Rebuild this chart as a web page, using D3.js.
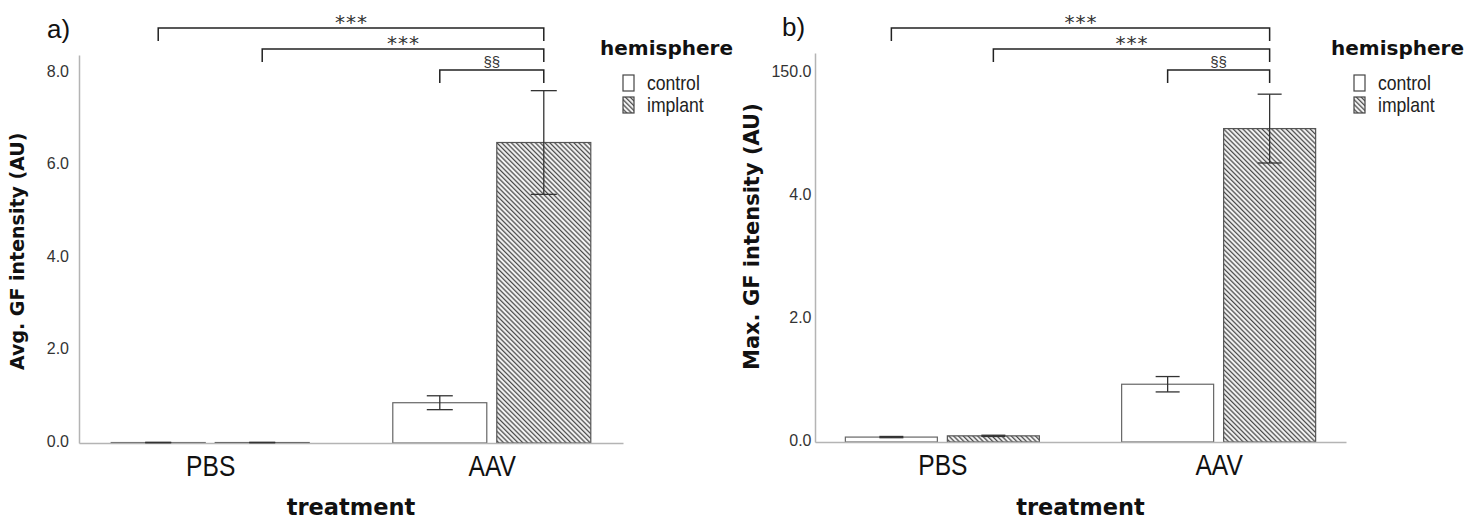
<!DOCTYPE html>
<html>
<head>
<meta charset="utf-8">
<script src="https://cdnjs.cloudflare.com/ajax/libs/d3/7.8.5/d3.min.js"></script>
<style>
  body { margin: 0; background: #fff; }
</style>
</head>
<body>
<svg width="1473" height="523"></svg>
<script>
var treatments = ["PBS", "AAV"];
var hemispheres = ["control", "implant"];

// a) average GF intensity: mean and error per treatment
var avgControl = [0.01, 0.87];
var avgControlErr = [0.005, 0.15];
var avgImplant = [0.01, 6.49];
var avgImplantErr = [0.005, 1.12];
var avgTicks = [0, 2, 4, 6, 8];
var avgTickLabels = ["0.0", "2.0", "4.0", "6.0", "8.0"];

// b) max GF intensity
var maxControl = [0.08, 0.94];
var maxControlErr = [0.01, 0.125];
var maxImplant = [0.10, 5.10];
var maxImplantErr = [0.01, 0.56];
var maxTicks = [0, 2, 4, 6];
var maxTickLabels = ["0.0", "2.0", "4.0", "150.0"];

// significance brackets (same in both panels)
var bracketFrom = [["PBS", "control"], ["PBS", "implant"], ["AAV", "control"]];
var bracketTo = ["AAV", "implant"];
var bracketLabels = ["***", "***", "§§"];
var bracketLevels = [28, 49, 70];

var svg = d3.select("svg");

var defs = svg.append("defs");
var hatch = defs.append("pattern")
    .attr("id", "hatch")
    .attr("patternUnits", "userSpaceOnUse")
    .attr("width", 3.4)
    .attr("height", 3.4)
    .attr("patternTransform", "rotate(45)");
hatch.append("rect").attr("width", 3.4).attr("height", 3.4).attr("fill", "#fff");
hatch.append("line")
    .attr("x1", 0).attr("x2", 3.4)
    .attr("y1", 1.2).attr("y2", 1.2)
    .attr("stroke", "#4a4a4a")
    .attr("stroke-width", 1.4);

var panels = [
    {
        letter: "a)", letterX: 47, letterY: 38,
        title: "Avg. GF intensity (AU)", titleX: 24, titleSize: 19,
        control: avgControl, controlErr: avgControlErr,
        implant: avgImplant, implantErr: avgImplantErr,
        ticks: avgTicks, tickLabels: avgTickLabels, yMax: 8.38,
        x0: 79, x1: 623, y0: 443, yTop: 55, pointPad: 0.466,
        inner: 99, tickPad: 10, cap: 13, legendX: 600
    },
    {
        letter: "b)", letterX: 782, letterY: 36,
        title: "Max. GF intensity (AU)", titleX: 758.5, titleSize: 21,
        control: maxControl, controlErr: maxControlErr,
        implant: maxImplant, implantErr: maxImplantErr,
        ticks: maxTicks, tickLabels: maxTickLabels, yMax: 6.33,
        x0: 815, x1: 1346, y0: 442, yTop: 53, pointPad: 0.461,
        inner: 97, tickPad: 3.5, cap: 12, legendX: 1331
    }
];

panels.forEach(drawPanel);

function drawPanel(p) {
    var g = svg.append("g");

    var x = d3.scalePoint()
        .domain(treatments)
        .range([p.x0, p.x1])
        .padding(p.pointPad);

    var gap = 10;
    var xInner = d3.scaleBand()
        .domain(hemispheres)
        .range([-p.inner, p.inner])
        .paddingInner(gap / ((2 * p.inner + gap) / 2));

    var y = d3.scaleLinear()
        .domain([0, p.yMax])
        .range([p.y0, p.yTop]);

    var rows = [];
    treatments.forEach(function (t, i) {
        rows.push({t: t, h: "control", v: p.control[i], e: p.controlErr[i]});
        rows.push({t: t, h: "implant", v: p.implant[i], e: p.implantErr[i]});
    });

    function cx(t, h) {
        return x(t) + xInner(h) + xInner.bandwidth() / 2;
    }

    // bars
    g.selectAll(".bar")
        .data(rows)
        .enter().append("rect")
        .attr("class", "bar")
        .attr("x", function (d) { return x(d.t) + xInner(d.h); })
        .attr("width", xInner.bandwidth())
        .attr("y", function (d) { return y(d.v); })
        .attr("height", function (d) { return p.y0 - y(d.v); })
        .attr("fill", function (d) { return d.h === "control" ? "#fff" : "url(#hatch)"; })
        .attr("stroke", function (d) { return d.h === "control" ? "#666" : "#555"; })
        .attr("stroke-width", 1.2);

    // y axis
    var yAxis = g.append("g")
        .attr("transform", "translate(" + p.x0 + ",0)")
        .call(d3.axisLeft(y)
            .tickValues(p.ticks)
            .tickFormat(function (d, i) { return p.tickLabels[i]; })
            .tickSize(0)
            .tickSizeOuter(0)
            .tickPadding(p.tickPad));
    yAxis.select(".domain").attr("stroke", "#b4b4b4").attr("stroke-width", 1.5);
    yAxis.selectAll("text")
        .attr("dy", "0.22em")
        .style("font-family", "'Liberation Sans', Arial, sans-serif")
        .style("font-size", "16px")
        .attr("fill", "#333");

    // x axis (condensed look of the original labels)
    var xAxis = g.append("g")
        .attr("transform", "translate(0," + p.y0 + ")")
        .call(d3.axisBottom(x).tickSize(0).tickSizeOuter(0).tickPadding(12));
    xAxis.select(".domain").attr("stroke", "#b4b4b4").attr("stroke-width", 1.5);
    xAxis.selectAll("text")
        .attr("transform", "scale(0.82,1)")
        .style("font-family", "'Liberation Sans', Arial, sans-serif")
        .style("font-size", "30px")
        .attr("fill", "#111");

    // error bars
    var err = g.selectAll(".err")
        .data(rows)
        .enter().append("g")
        .attr("class", "err")
        .attr("stroke", "#333")
        .attr("stroke-width", 1.3);
    err.append("line")
        .attr("x1", function (d) { return cx(d.t, d.h); })
        .attr("x2", function (d) { return cx(d.t, d.h); })
        .attr("y1", function (d) { return y(d.v + d.e); })
        .attr("y2", function (d) { return y(d.v - d.e); });
    err.append("line")
        .attr("x1", function (d) { return cx(d.t, d.h) - p.cap; })
        .attr("x2", function (d) { return cx(d.t, d.h) + p.cap; })
        .attr("y1", function (d) { return y(d.v + d.e); })
        .attr("y2", function (d) { return y(d.v + d.e); });
    err.append("line")
        .attr("x1", function (d) { return cx(d.t, d.h) - p.cap; })
        .attr("x2", function (d) { return cx(d.t, d.h) + p.cap; })
        .attr("y1", function (d) { return y(d.v - d.e); })
        .attr("y2", function (d) { return y(d.v - d.e); });

    // significance brackets
    var xEnd = cx(bracketTo[0], bracketTo[1]);
    bracketFrom.forEach(function (f, i) {
        var xs = cx(f[0], f[1]);
        var ly = bracketLevels[i];
        g.append("path")
            .attr("d", "M" + xs + "," + (ly + 13) + "V" + ly + "H" + xEnd + "V" + (ly + 13))
            .attr("fill", "none")
            .attr("stroke", "#222")
            .attr("stroke-width", 1.5);
        var star = bracketLabels[i] === "***";
        g.append("text")
            .attr("x", (xs + xEnd) / 2 + (star ? 0.5 : 0))
            .attr("y", ly + (star ? 1 : -3))
            .attr("text-anchor", "middle")
            .style("font-family", star ? "'DejaVu Sans', sans-serif" : "'Liberation Sans', Arial, sans-serif")
            .style("font-size", star ? "20px" : "15px")
            .style("letter-spacing", star ? "1px" : "0px")
            .attr("fill", "#333")
            .text(bracketLabels[i]);
    });

    // titles
    g.append("text")
        .attr("x", p.letterX)
        .attr("y", p.letterY)
        .style("font-family", "'Liberation Sans', Arial, sans-serif")
        .style("font-size", "26px")
        .attr("fill", "#111")
        .text(p.letter);

    g.append("text")
        .attr("transform", "translate(" + p.titleX + ",370) rotate(-90)")
        .style("font-family", "'DejaVu Sans', sans-serif")
        .style("font-weight", "bold")
        .style("font-size", p.titleSize + "px")
        .attr("fill", "#111")
        .text(p.title);

    g.append("text")
        .attr("x", (p.x0 + p.x1) / 2)
        .attr("y", 515)
        .attr("text-anchor", "middle")
        .style("font-family", "'DejaVu Sans', sans-serif")
        .style("font-weight", "bold")
        .style("font-size", "22.5px")
        .attr("fill", "#111")
        .text("treatment");

    // legend
    var lg = g.append("g").attr("transform", "translate(" + p.legendX + ",0)");
    lg.append("text")
        .attr("x", 0)
        .attr("y", 55)
        .style("font-family", "'DejaVu Sans', sans-serif")
        .style("font-weight", "bold")
        .style("font-size", "20px")
        .attr("fill", "#111")
        .text("hemisphere");
    var item = lg.selectAll(".item")
        .data(hemispheres)
        .enter().append("g")
        .attr("class", "item")
        .attr("transform", function (d, i) { return "translate(0," + (i * 22) + ")"; });
    item.append("rect")
        .attr("x", 23)
        .attr("y", 75)
        .attr("width", 11)
        .attr("height", 16)
        .attr("fill", function (d) { return d === "control" ? "#fff" : "url(#hatch)"; })
        .attr("stroke", "#444")
        .attr("stroke-width", 1.2);
    item.append("text")
        .attr("transform", "translate(47,90) scale(0.88,1)")
        .style("font-family", "'Liberation Sans', Arial, sans-serif")
        .style("font-size", "20px")
        .attr("fill", "#222")
        .text(function (d) { return d; });
}
</script>
</body>
</html>
